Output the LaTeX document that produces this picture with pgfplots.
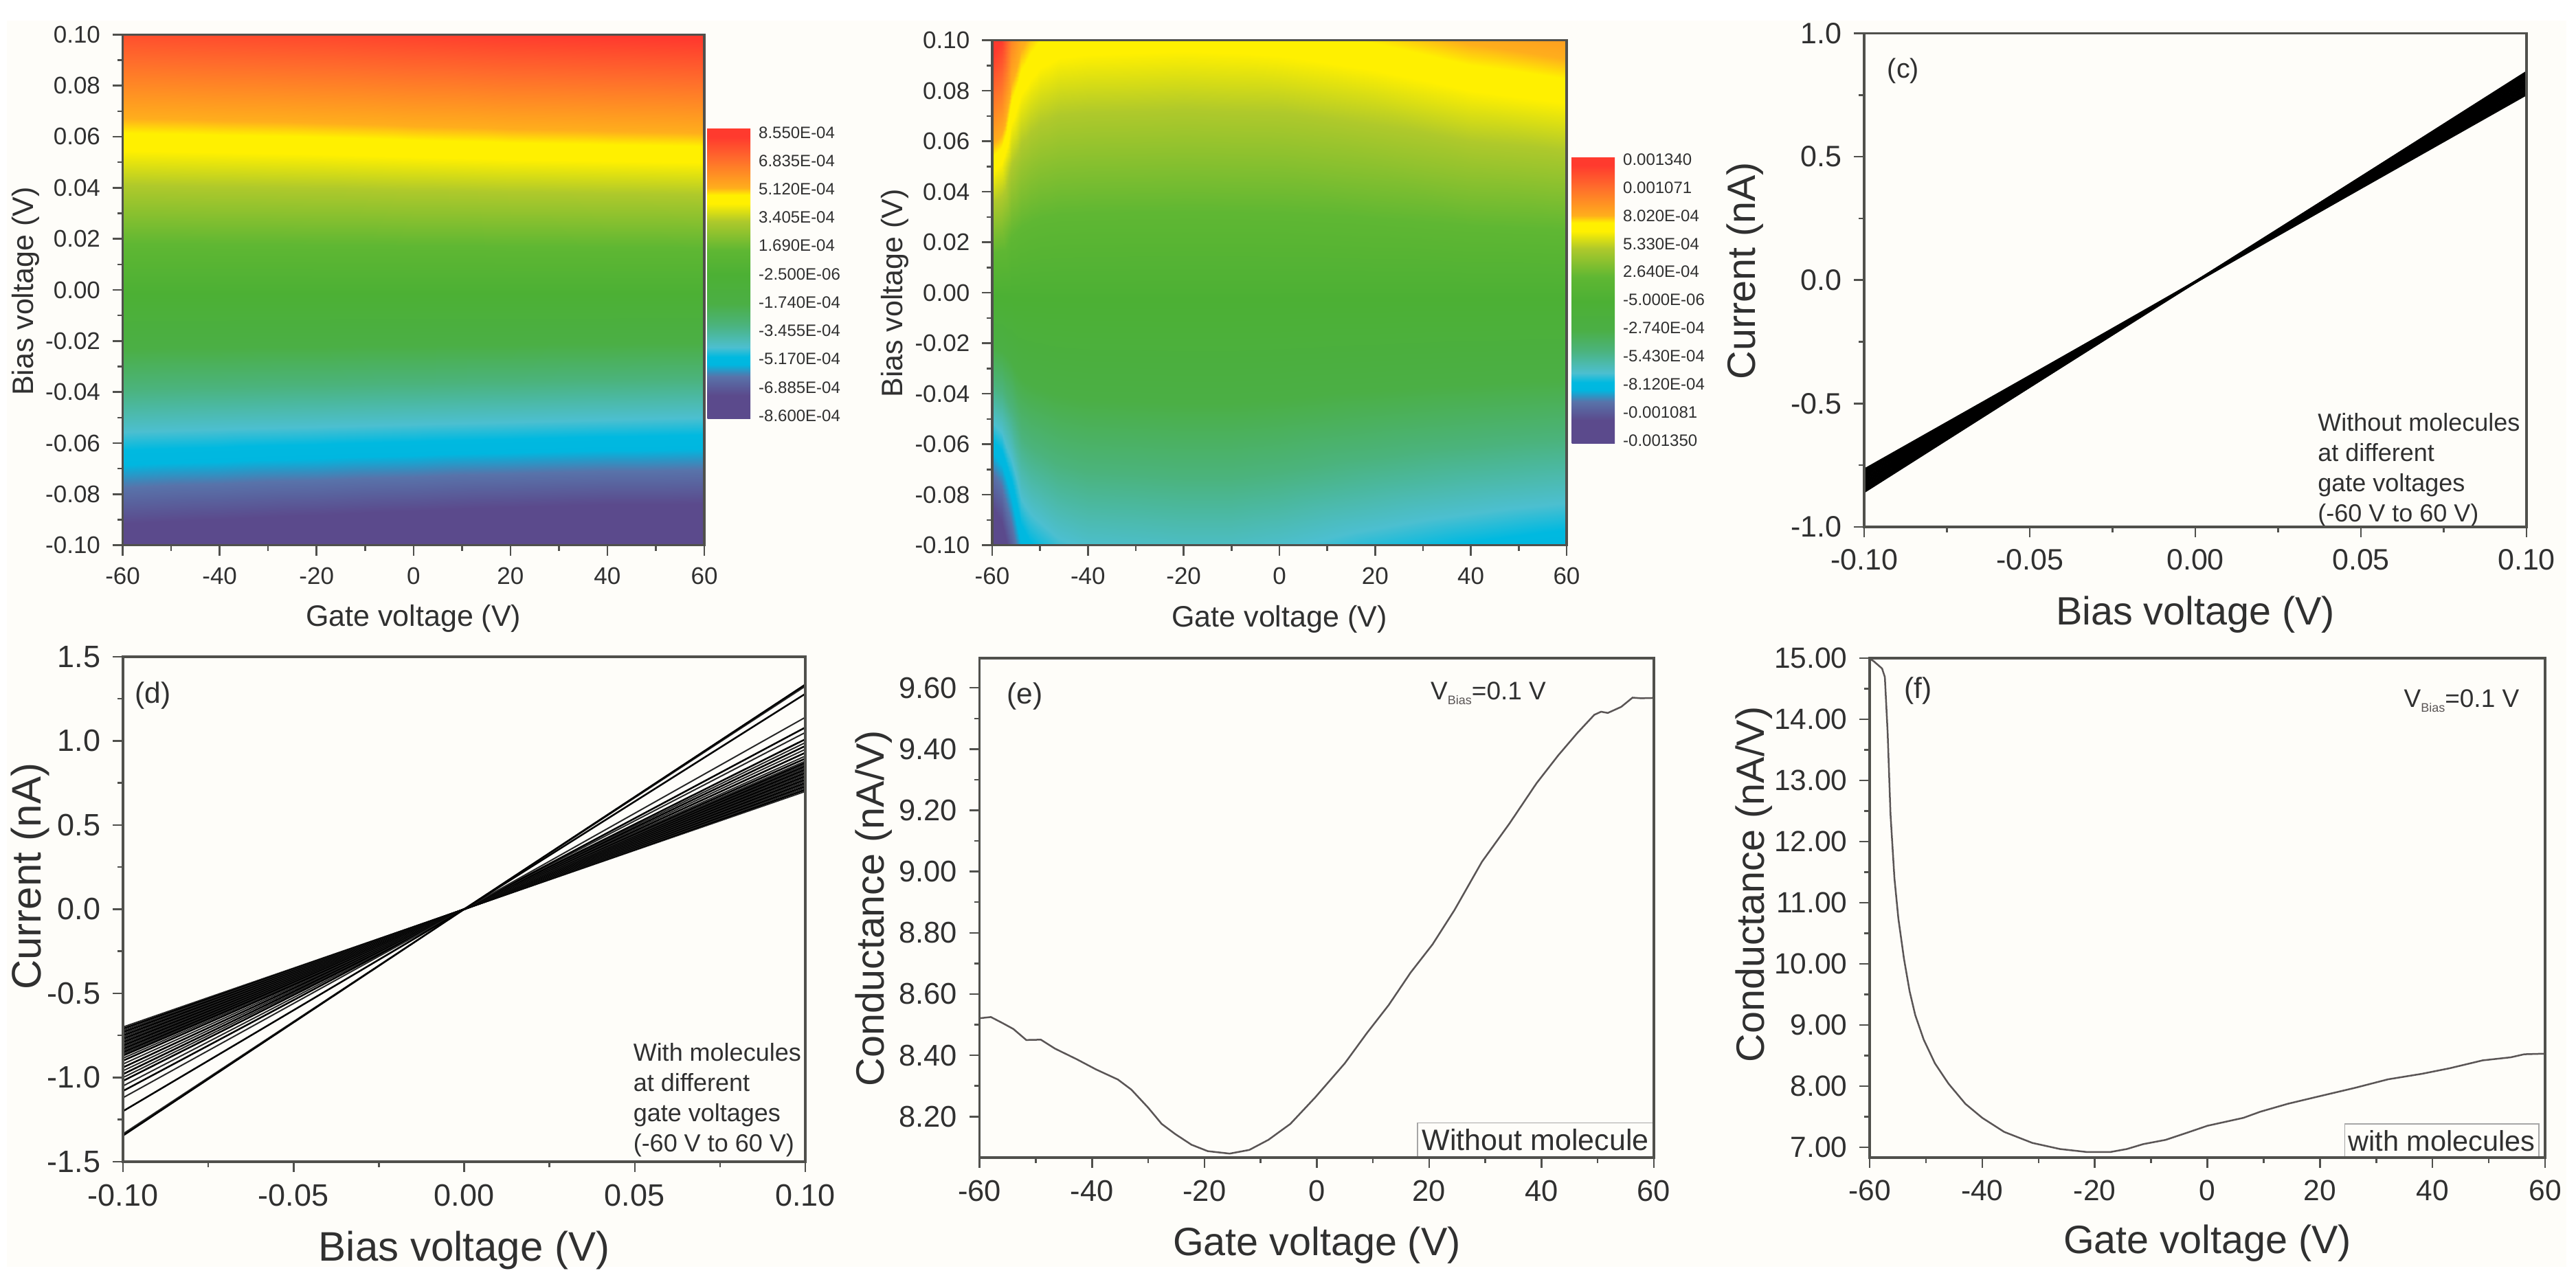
\documentclass[border=0pt]{standalone}
\usepackage{pgfplots}
\usepackage{pgfplotstable}
\usepackage{fontspec}
\setmainfont{Liberation Sans}
\pgfplotsset{compat=1.18}
\definecolor{ink}{RGB}{48,48,48}
\definecolor{axc}{RGB}{80,80,76}
\definecolor{cream}{RGB}{254,253,249}
\definecolor{curve}{RGB}{90,85,85}
\newcommand{\fs}[1]{\fontsize{#1}{#1}\selectfont}
\pgfplotsset{
  colormap={origin}{
    rgb255(0pt)=(91,74,140);
    rgb255(80pt)=(91,74,140);
    rgb255(145pt)=(88,115,170);
    rgb255(186pt)=(0,183,224);
    rgb255(212pt)=(0,185,224);
    rgb255(245pt)=(76,191,208);
    rgb255(323pt)=(75,179,124);
    rgb255(395pt)=(75,175,69);
    rgb255(495pt)=(76,176,52);
    rgb255(580pt)=(95,183,51);
    rgb255(680pt)=(175,201,43);
    rgb255(740pt)=(255,240,0);
    rgb255(770pt)=(255,240,0);
    rgb255(795pt)=(255,174,28);
    rgb255(897pt)=(255,106,44);
    rgb255(970pt)=(255,58,46);
    rgb255(1000pt)=(255,58,46)
  },
  panel/.style={
    scale only axis, axis on top, anchor=south west,
    tick align=outside, xtick pos=left, ytick pos=left,
    axis line style={draw=axc,line width=0.7pt},
    every tick/.style={draw=axc,line width=0.5pt},
    major tick length=3pt, minor tick length=1.6pt,
    minor x tick num=1, minor y tick num=1,
    tick label style={text=ink},
    label style={text=ink},
  },
  gatex/.style={xmin=-60,xmax=60,xtick={-60,-40,-20,0,20,40,60},
    xticklabels={-60,-40,-20,0,20,40,60}},
  biasx/.style={xmin=-0.1,xmax=0.1,xtick={-0.1,-0.05,0,0.05,0.1},
    xticklabels={-0.10,-0.05,0.00,0.05,0.10}},
  biasy/.style={ymin=-0.1,ymax=0.1,ytick={-0.1,-0.08,-0.06,-0.04,-0.02,0,0.02,0.04,0.06,0.08,0.1},
    yticklabels={-0.10,-0.08,-0.06,-0.04,-0.02,0.00,0.02,0.04,0.06,0.08,0.10}},
  xlab/.style={xlabel style={at={(axis description cs:0.5,#1)},anchor=center}},
  cbar/.style={
    scale only axis, width=12.5pt,
    axis line style={draw=none}, major tick length=0pt,
    yticklabel pos=right, xtick=\empty,
    minor y tick num=0,
    yticklabel style={font=\fs{4.8},text=ink,inner sep=0pt,xshift=2.2pt},
  },
}
\pgfplotstableread{
x y c
-60 -0.1 -7.9
-40 -0.1 -8.05
-20 -0.1 -8.2
0 -0.1 -8.35
20 -0.1 -8.5
40 -0.1 -8.65
60 -0.1 -8.8
-60 -0.05 -3.95
-40 -0.05 -4.03
-20 -0.05 -4.1
0 -0.05 -4.18
20 -0.05 -4.25
40 -0.05 -4.33
60 -0.05 -4.4
-60 0 0
-40 0 0
-20 0 0
0 0 0
20 0 0
40 0 0
60 0 0
-60 0.05 3.75
-40 0.05 3.8
-20 0.05 3.85
0 0.05 3.93
20 0.05 4.0
40 0.05 4.05
60 0.05 4.1
-60 0.1 7.5
-40 0.1 7.6
-20 0.1 7.7
0 0.1 7.85
20 0.1 8.0
40 0.1 8.1
60 0.1 8.2
}\dataA
\pgfplotstableread{
x y c
-60 -0.1 -13.5
-58 -0.1 -12.5
-56 -0.1 -10.5
-54 -0.1 -8.5
-52 -0.1 -7.9
-50 -0.1 -7.6
-46 -0.1 -7.1
-40 -0.1 -6.8
-30 -0.1 -6.7
-20 -0.1 -6.6
-10 -0.1 -6.6
0 -0.1 -6.8
20 -0.1 -7.4
40 -0.1 -7.9
60 -0.1 -8.3
-60 -0.075 -10.13
-58 -0.075 -9.38
-56 -0.075 -7.88
-54 -0.075 -6.38
-52 -0.075 -5.93
-50 -0.075 -5.7
-46 -0.075 -5.33
-40 -0.075 -5.1
-30 -0.075 -5.03
-20 -0.075 -4.95
-10 -0.075 -4.95
0 -0.075 -5.1
20 -0.075 -5.55
40 -0.075 -5.93
60 -0.075 -6.23
-60 -0.05 -6.75
-58 -0.05 -6.25
-56 -0.05 -5.25
-54 -0.05 -4.25
-52 -0.05 -3.95
-50 -0.05 -3.8
-46 -0.05 -3.55
-40 -0.05 -3.4
-30 -0.05 -3.35
-20 -0.05 -3.3
-10 -0.05 -3.3
0 -0.05 -3.4
20 -0.05 -3.7
40 -0.05 -3.95
60 -0.05 -4.15
-60 -0.025 -3.38
-58 -0.025 -3.13
-56 -0.025 -2.63
-54 -0.025 -2.13
-52 -0.025 -1.98
-50 -0.025 -1.9
-46 -0.025 -1.78
-40 -0.025 -1.7
-30 -0.025 -1.68
-20 -0.025 -1.65
-10 -0.025 -1.65
0 -0.025 -1.7
20 -0.025 -1.85
40 -0.025 -1.98
60 -0.025 -2.08
-60 0 0
-58 0 0
-56 0 0
-54 0 0
-52 0 0
-50 0 0
-46 0 0
-40 0 0
-30 0 0
-20 0 0
-10 0 0
0 0 0
20 0 0
40 0 0
60 0 0
-60 0.025 3.35
-58 0.025 3.13
-56 0.025 2.38
-54 0.025 2.03
-52 0.025 1.88
-50 0.025 1.78
-46 0.025 1.7
-40 0.025 1.68
-30 0.025 1.66
-20 0.025 1.65
-10 0.025 1.66
0 0.025 1.68
20 0.025 1.8
40 0.025 2.0
60 0.025 2.13
-60 0.05 6.7
-58 0.05 6.25
-56 0.05 4.75
-54 0.05 4.05
-52 0.05 3.75
-50 0.05 3.55
-46 0.05 3.4
-40 0.05 3.35
-30 0.05 3.33
-20 0.05 3.3
-10 0.05 3.33
0 0.05 3.35
20 0.05 3.6
40 0.05 4.0
60 0.05 4.25
-60 0.075 10.05
-58 0.075 9.38
-56 0.075 7.13
-54 0.075 6.1
-52 0.075 5.65
-50 0.075 5.35
-46 0.075 5.1
-40 0.075 5.03
-30 0.075 5.0
-20 0.075 4.95
-10 0.075 5.0
0 0.075 5.03
20 0.075 5.4
40 0.075 6.0
60 0.075 6.38
-60 0.1 13.4
-58 0.1 12.5
-56 0.1 9.5
-54 0.1 8.2
-52 0.1 7.6
-50 0.1 7.2
-46 0.1 6.9
-40 0.1 6.8
-30 0.1 6.75
-20 0.1 6.7
-10 0.1 6.75
0 0.1 6.85
20 0.1 7.3
40 0.1 8.0
60 0.1 8.5
}\dataB
\begin{document}
\begin{tikzpicture}
\path[use as bounding box,fill=white] (0,0) rectangle (749.8pt,373.8pt);
\fill[cream] (2pt,5pt) rectangle (747pt,367.8pt);

% (a)
\begin{axis}[panel,gatex,biasy,at={(35.72pt,215.06pt)},width=169.28pt,height=148.68pt,
  tick label style={font=\fs{7}},label style={font=\fs{8.6}},
  xlab=-0.143,ylabel style={at={(axis description cs:-0.167,0.497)},anchor=center,rotate=0},
  xlabel={Gate voltage (V)},ylabel={Bias voltage (V)},
  colormap name=origin,point meta min=-8.6,point meta max=8.55,
  colorbar,
  colorbar style={cbar,at={(parent axis.south east)},anchor=south west,xshift=-7.6pt,yshift=36.9pt,height=84.5pt,
    ytick={-8.43,-6.76,-5.08,-3.41,-1.74,-0.06,1.61,3.28,4.96,6.63,8.30},
    yticklabels={-8.600E-04,-6.885E-04,-5.170E-04,-3.455E-04,-1.740E-04,-2.500E-06,1.690E-04,3.405E-04,5.120E-04,6.835E-04,8.550E-04}},
]
\addplot[surf,shader=interp,mesh/cols=7,point meta=\thisrow{c}] table {\dataA};
\node[text=ink,font=\fs{9},inner sep=0pt] at (axis description cs:-0.043,-0.118) {(a)};
\end{axis}

% (b)
\begin{axis}[panel,gatex,biasy,at={(288.8pt,215.06pt)},width=167.2pt,height=147pt,
  tick label style={font=\fs{7}},label style={font=\fs{8.6}},
  xlab=-0.146,ylabel style={at={(axis description cs:-0.169,0.499)},anchor=center,rotate=0},
  xlabel={Gate voltage (V)},ylabel={Bias voltage (V)},
  colormap name=origin,point meta min=-13.5,point meta max=13.4,
  colorbar,
  colorbar style={cbar,at={(parent axis.south east)},anchor=south west,xshift=-7pt,yshift=29.7pt,height=83.4pt,
    ytick={-13.23,-10.59,-7.96,-5.32,-2.68,-0.05,2.59,5.22,7.86,10.5,13.13},
    yticklabels={-0.001350,-0.001081,-8.120E-04,-5.430E-04,-2.740E-04,-5.000E-06,2.640E-04,5.330E-04,8.020E-04,0.001071,0.001340}},
]
\addplot[surf,shader=interp,mesh/cols=15,point meta=\thisrow{c}] table {\dataB};
\node[text=ink,font=\fs{9},inner sep=0pt] at (axis description cs:-0.062,-0.117) {(b)};
\end{axis}

% (c)
\begin{axis}[panel,biasx,at={(542.6pt,220.4pt)},width=192.8pt,height=143.7pt,
  ymin=-1,ymax=1,ytick={-1,-0.5,0,0.5,1},yticklabels={-1.0,-0.5,0.0,0.5,1.0},
  tick label style={font=\fs{8.6}},label style={font=\fs{11.5}},
  xlab=-0.177,ylabel style={at={(axis description cs:-0.18,0.519)},anchor=center,rotate=0},
  xlabel={Bias voltage (V)},ylabel={Current (nA)},
  cycle list={{black,line width=0.75pt}},
]
\addplot coordinates {(-0.1,-0.766)(0.1,0.751)};
\addplot coordinates {(-0.1,-0.774)(0.1,0.759)};
\addplot coordinates {(-0.1,-0.782)(0.1,0.767)};
\addplot coordinates {(-0.1,-0.790)(0.1,0.775)};
\addplot coordinates {(-0.1,-0.798)(0.1,0.783)};
\addplot coordinates {(-0.1,-0.806)(0.1,0.791)};
\addplot coordinates {(-0.1,-0.814)(0.1,0.799)};
\addplot coordinates {(-0.1,-0.822)(0.1,0.807)};
\addplot coordinates {(-0.1,-0.830)(0.1,0.815)};
\addplot coordinates {(-0.1,-0.838)(0.1,0.823)};
\addplot coordinates {(-0.1,-0.846)(0.1,0.831)};
\addplot coordinates {(-0.1,-0.854)(0.1,0.839)};
\addplot coordinates {(-0.1,-0.860)(0.1,0.845)};
\node[text=ink,font=\fs{7.9},inner sep=0pt] at (axis description cs:0.059,0.924) {(c)};
\node[text=ink,font=\fs{7.2},inner sep=0pt,anchor=west,align=left] at (axis description cs:0.684,0.1155)
  {Without molecules\\[1.6pt]at different\\[1.6pt]gate voltages\\[1.6pt](-60 V to 60 V)};
\end{axis}

% (d)
\begin{axis}[panel,biasx,at={(35.8pt,35.6pt)},width=198.6pt,height=147pt,
  ymin=-1.5,ymax=1.5,ytick={-1.5,-1,-0.5,0,0.5,1,1.5},yticklabels={-1.5,-1.0,-0.5,0.0,0.5,1.0,1.5},
  tick label style={font=\fs{9}},label style={font=\fs{12}},
  xlab=-0.176,ylabel style={at={(axis description cs:-0.136,0.565)},anchor=center,rotate=0},
  xlabel={Bias voltage (V)},ylabel={Current (nA)},
  cycle list={{black!85,line width=0.5pt}},
]
\addplot coordinates {(-0.1,-0.70)(0,0)(0.1,0.70)};
\addplot coordinates {(-0.1,-0.71)(0,0)(0.1,0.71)};
\addplot coordinates {(-0.1,-0.72)(0,0)(0.1,0.72)};
\addplot coordinates {(-0.1,-0.73)(0,0)(0.1,0.73)};
\addplot coordinates {(-0.1,-0.74)(0,0)(0.1,0.74)};
\addplot coordinates {(-0.1,-0.75)(0,0)(0.1,0.75)};
\addplot coordinates {(-0.1,-0.76)(0,0)(0.1,0.76)};
\addplot coordinates {(-0.1,-0.77)(0,0)(0.1,0.77)};
\addplot coordinates {(-0.1,-0.78)(0,0)(0.1,0.78)};
\addplot coordinates {(-0.1,-0.79)(0,0)(0.1,0.79)};
\addplot coordinates {(-0.1,-0.80)(0,0)(0.1,0.80)};
\addplot coordinates {(-0.1,-0.81)(0,0)(0.1,0.81)};
\addplot coordinates {(-0.1,-0.82)(0,0)(0.1,0.82)};
\addplot coordinates {(-0.1,-0.83)(0,0)(0.1,0.83)};
\addplot coordinates {(-0.1,-0.84)(0,0)(0.1,0.84)};
\addplot coordinates {(-0.1,-0.85)(0,0)(0.1,0.85)};
\addplot coordinates {(-0.1,-0.86)(0,0)(0.1,0.86)};
\addplot coordinates {(-0.1,-0.87)(0,0)(0.1,0.87)};
\addplot coordinates {(-0.1,-0.885)(0,0)(0.1,0.88)};
\addplot coordinates {(-0.1,-0.90)(0,0)(0.1,0.895)};
\addplot coordinates {(-0.1,-0.92)(0,0)(0.1,0.91)};
\addplot coordinates {(-0.1,-0.94)(0,0)(0.1,0.93)};
\addplot coordinates {(-0.1,-0.96)(0,0)(0.1,0.95)};
\addplot coordinates {(-0.1,-0.98)(0,0)(0.1,0.97)};
\addplot coordinates {(-0.1,-1.00)(0,0)(0.1,0.99)};
\addplot coordinates {(-0.1,-1.02)(0,0)(0.1,1.01)};
\addplot coordinates {(-0.1,-1.05)(0,0)(0.1,1.05)};
\addplot coordinates {(-0.1,-1.08)(0,0)(0.1,1.08)};
\addplot coordinates {(-0.1,-1.12)(0,0)(0.1,1.14)};
\addplot coordinates {(-0.1,-1.20)(0,0)(0.1,1.28)};
\addplot coordinates {(-0.1,-1.335)(0,0)(0.1,1.325)};
\addplot coordinates {(-0.1,-1.345)(0,0)(0.1,1.335)};
\node[text=ink,font=\fs{8.5},inner sep=0pt] at (axis description cs:0.044,0.923) {(d)};
\node[text=ink,font=\fs{7.2},inner sep=0pt,anchor=west,align=left] at (axis description cs:0.747,0.122)
  {With molecules\\[1.6pt]at different\\[1.6pt]gate voltages\\[1.6pt](-60 V to 60 V)};
\end{axis}

% (e)
\begin{axis}[panel,gatex,at={(285.14pt,36.8pt)},width=196.26pt,height=145.4pt,
  ymin=8.066,ymax=9.697,ytick={8.2,8.4,8.6,8.8,9,9.2,9.4,9.6},
  yticklabels={8.20,8.40,8.60,8.80,9.00,9.20,9.40,9.60},
  tick label style={font=\fs{8.7}},label style={font=\fs{11.5}},
  xlab=-0.176,ylabel style={at={(axis description cs:-0.157,0.499)},anchor=center,rotate=0},
  xlabel={Gate voltage (V)},ylabel={Conductance (nA/V)},
]
\addplot[curve,line width=0.5pt] coordinates {
(-60,8.521)(-58,8.525)(-55.9,8.505)(-54,8.486)(-51.7,8.45)(-49.1,8.451)(-46.6,8.422)(-42.7,8.387)
(-39.3,8.354)(-35.4,8.321)(-33,8.288)(-30,8.229)(-27.6,8.176)(-25.2,8.143)(-22.3,8.108)(-19.4,8.087)
(-15.5,8.079)(-12,8.091)(-8.6,8.124)(-4.7,8.176)(-0.3,8.262)(5,8.374)(8.9,8.472)(12.8,8.564)
(16.7,8.67)(20.6,8.762)(24.5,8.874)(29.4,9.032)(34.3,9.157)(39.1,9.288)(43,9.38)(46.4,9.453)
(49.4,9.512)(50.6,9.522)(51.8,9.518)(54.2,9.538)(56.2,9.568)(57.7,9.566)(60,9.567)};
\node[text=ink,font=\fs{8.5},inner sep=0pt] at (axis description cs:0.067,0.924) {(e)};
\node[text=ink,font=\fs{7.4},inner sep=0pt,anchor=west] at (axis description cs:0.668,0.93)
  {V\raisebox{-1.4pt}{\fs{3.6}\textcolor{curve}{Bias}}=0.1 V};
\node[text=ink,font=\fs{8.6},draw=gray!70,line width=0.3pt,fill=cream,anchor=south east,inner sep=0pt,
  minimum width=68.6pt,minimum height=9.9pt] at (axis description cs:1,0) {Without molecule};
\end{axis}

% (f)
\begin{axis}[panel,gatex,at={(544.2pt,36.8pt)},width=196.6pt,height=145.4pt,
  ymin=6.83,ymax=15,ytick={7,8,9,10,11,12,13,14,15},
  yticklabels={7.00,8.00,9.00,10.00,11.00,12.00,13.00,14.00,15.00},
  tick label style={font=\fs{8.5}},label style={font=\fs{11.5}},
  xlab=-0.172,ylabel style={at={(axis description cs:-0.171,0.547)},anchor=center,rotate=0},
  xlabel={Gate voltage (V)},ylabel={Conductance (nA/V)},
]
\addplot[curve,line width=0.5pt] coordinates {
(-60,14.99)(-59.3,14.95)(-57.8,14.83)(-57.3,14.69)(-56.8,13.77)(-56.3,12.45)(-55.6,11.4)(-54.9,10.74)
(-53.9,10.08)(-52.9,9.55)(-51.9,9.16)(-50.4,8.76)(-48.4,8.37)(-46,8.04)(-43,7.71)(-40,7.48)
(-36.1,7.25)(-31.1,7.07)(-26.2,6.97)(-21.3,6.92)(-17.3,6.92)(-14.3,6.97)(-11.4,7.05)(-7.4,7.12)
(-3.5,7.24)(0,7.35)(6.4,7.48)(9.4,7.58)(14.3,7.71)(19.3,7.82)(26.2,7.97)(32.1,8.11)
(38.1,8.2)(43,8.29)(48.9,8.42)(53.9,8.47)(56.3,8.52)(60,8.53)};
\node[text=ink,font=\fs{8.5},inner sep=0pt] at (axis description cs:0.072,0.934) {(f)};
\node[text=ink,font=\fs{7.4},inner sep=0pt,anchor=west] at (axis description cs:0.79,0.915)
  {V\raisebox{-1.4pt}{\fs{3.6}\textcolor{curve}{Bias}}=0.1 V};
\node[text=ink,font=\fs{8.3},draw=gray!70,line width=0.3pt,fill=cream,anchor=south east,inner sep=0pt,
  minimum width=56.5pt,minimum height=9.6pt] at (axis description cs:0.9915,0) {with molecules};
\end{axis}
\end{tikzpicture}
\end{document}
